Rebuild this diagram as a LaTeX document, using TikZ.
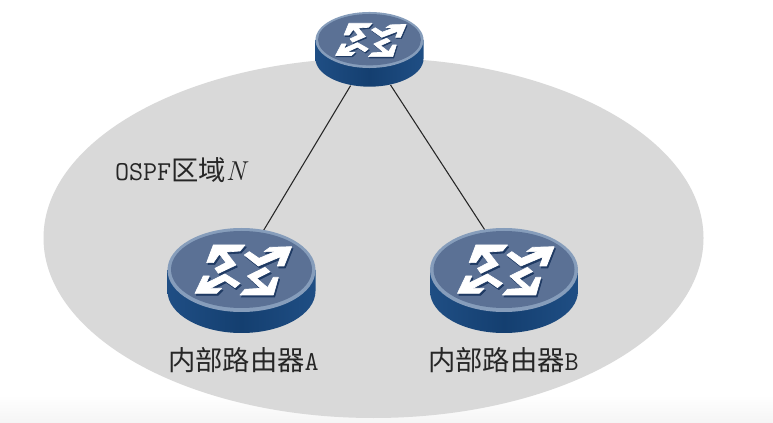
\documentclass[tikz,border=0pt]{standalone}
\usepackage{fontspec}
\newfontfamily\cjk{Noto Sans CJK SC}
\usetikzlibrary{shapes.geometric}
\definecolor{areagray}{HTML}{D9D9D9}
\definecolor{faceblue}{HTML}{5B7195}
\definecolor{rimblue}{HTML}{869DBB}
\definecolor{sidemid}{HTML}{143F70}
\definecolor{sideedge}{HTML}{1F4E84}
\definecolor{arrowshadow}{HTML}{1F3A63}
\tikzset{
  anchorbody/.style={ellipse,inner sep=0pt,outer sep=0pt,draw=none},
  link/.style={draw=black!85,line width=0.8pt},
  lbl/.style={inner sep=0pt,outer sep=0pt,text=black!85,font=\fontsize{20.5}{24}\selectfont},
  iconpart/.style={fill=#1,draw=#1,line width=0.5pt,line join=round},
}
\newcommand{\iconshapes}[1]{%
  \path[iconpart=#1] (70,15)--(165,15)--(150,33)--(108,36)--(138,75)--(85,100)--(75,85)--(108,68)--(88,42)--(70,68)--(50,68)--cycle;
  \path[iconpart=#1] (305,20)--(282,78)--(262,78)--(272,50)--(205,78)--(163,45)--(178,35)--(207,55)--(255,35)--(222,35)--(240,22)--cycle;
  \path[iconpart=#1] (15,160)--(40,108)--(58,108)--(48,130)--(105,102)--(150,130)--(135,143)--(105,122)--(60,145)--(95,145)--(80,160)--cycle;
  \path[iconpart=#1] (250,165)--(150,165)--(165,148)--(212,145)--(172,108)--(225,82)--(240,95)--(200,115)--(233,143)--(250,112)--(265,112)--cycle;
}
% centre x, centre y, x scale, y scale, side depth (in scaled units)
\newcommand{\drawrouter}[5]{%
  \begin{scope}[shift={(#1,#2)},xscale=#3,yscale=#4]
    \path[left color=sideedge,right color=sideedge,middle color=sidemid]
      (-74,0) -- (-74,#5) .. controls (-74,{#5+23.2}) and (-40.9,{#5+42}) .. (0,{#5+42})
      .. controls (40.9,{#5+42}) and (74,{#5+23.2}) .. (74,#5) -- (74,0) -- cycle;
    \fill[rimblue] (0,0) ellipse (74 and 42);
    \fill[faceblue] (0,-0.5) ellipse (70.5 and 38.5);
    \begin{scope}[shift={(-51.5,-30)},scale=0.3333]
      \begin{scope}[shift={(4,6)}]\iconshapes{arrowshadow}\end{scope}
      \iconshapes{white}
    \end{scope}
  \end{scope}}
\begin{document}
\begin{tikzpicture}[x=0.75pt,y=-0.75pt]
  \useasboundingbox (0,0) rectangle (773,423);
  \fill[white] (0,0) rectangle (773,423);
  \shade[top color=white,bottom color=black!4] (0,395) rectangle (773,423);
  \fill[areagray] (373.5,238) ellipse (330 and 180);
  \node[anchorbody,minimum width=108*0.75pt,minimum height=76*0.75pt] (top) at (369.5,50) {};
  \node[anchorbody,minimum width=148*0.75pt,minimum height=104*0.75pt] (ra) at (241.5,280) {};
  \node[anchorbody,minimum width=148*0.75pt,minimum height=104*0.75pt] (rb) at (504,280) {};
  \draw[link] (top.242) -- (ra.66);
  \draw[link] (top.301) -- (rb.111);
  \drawrouter{369.5}{40}{0.73}{0.667}{28}
  \drawrouter{241.5}{270}{1}{1}{21}
  \drawrouter{504}{270}{1}{1}{21}
  \node[lbl,anchor=west] (area) at (115,170) {\ttfamily OSPF{\cjk 区域}\textit{\rmfamily N}};
  \node[lbl,anchor=west] (la) at (168,360) {{\cjk 内部路由器}\ttfamily A};
  \node[lbl,anchor=west] (lb) at (428,360) {{\cjk 内部路由器}\ttfamily B};
\end{tikzpicture}
\end{document}
